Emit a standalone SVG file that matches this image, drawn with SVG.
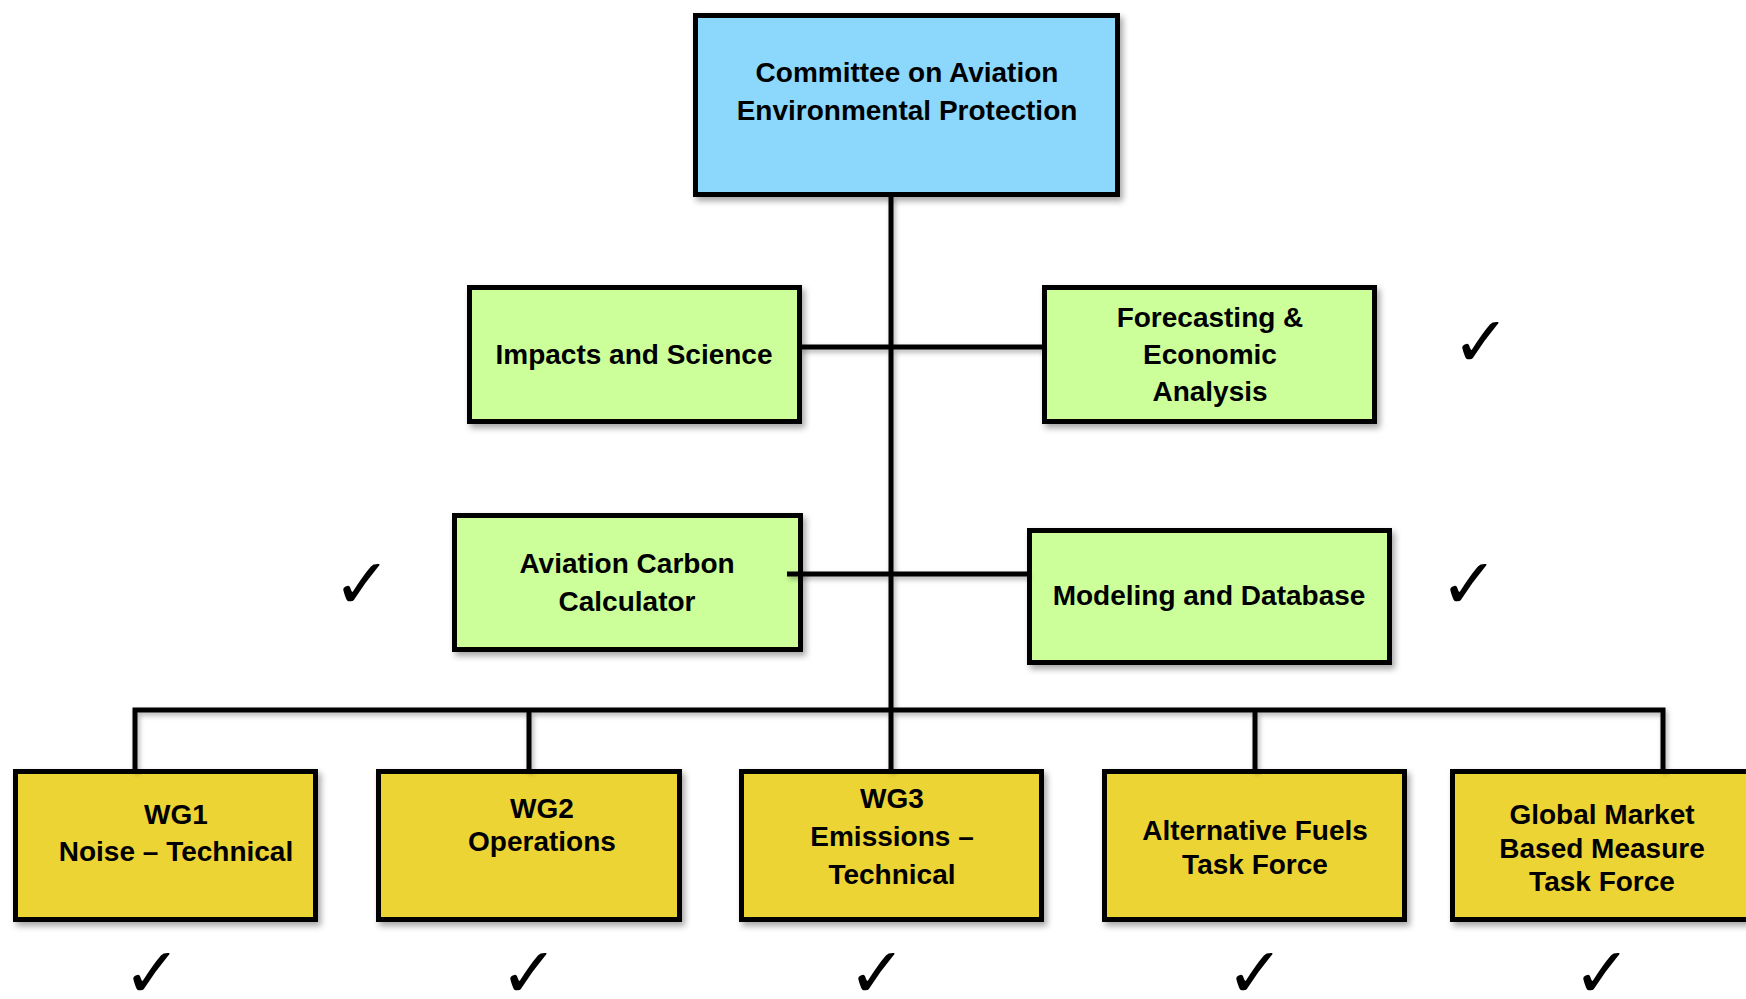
<svg xmlns="http://www.w3.org/2000/svg" width="1746" height="999" viewBox="0 0 1746 999">
<defs>
<filter id="sh" x="-10%" y="-10%" width="130%" height="140%">
<feDropShadow dx="3" dy="4" stdDeviation="3" flood-color="#000" flood-opacity="0.35"/>
</filter>
<filter id="shl" filterUnits="userSpaceOnUse" x="0" y="0" width="1746" height="999">
<feDropShadow dx="2" dy="3" stdDeviation="2.5" flood-color="#000" flood-opacity="0.3"/>
</filter>
<style>
.box{stroke:#000;stroke-width:5;filter:url(#sh)}
.blue{fill:#8CD8FC}
.green{fill:#CCFF99}
.yellow{fill:#EDD434}
.t{font-family:"Liberation Sans",Arial,sans-serif;font-weight:bold;font-size:28px;fill:#000;text-anchor:middle}
.ck{font-family:"DejaVu Sans",sans-serif;font-weight:bold;font-size:70px;fill:#000;text-anchor:middle}
.ln{stroke:#000;stroke-width:5;fill:none}
</style>
</defs>
<rect width="1746" height="999" fill="#fff"/>
<g id="caep">
<rect class="box blue" x="695.5" y="15.5" width="422" height="179"/>
<text class="t" x="907" y="82">Committee on Aviation</text>
<text class="t" x="907" y="120">Environmental Protection</text>
</g>
<g id="impacts">
<rect class="box green" x="469.5" y="287.5" width="330" height="134"/>
<text class="t" x="634" y="364">Impacts and Science</text>
</g>
<g id="forecasting">
<rect class="box green" x="1044.5" y="287.5" width="330" height="134"/>
<text class="t" x="1210" y="327">Forecasting &amp;</text>
<text class="t" x="1210" y="364">Economic</text>
<text class="t" x="1210" y="401">Analysis</text>
</g>
<g id="acc">
<rect class="box green" x="454.5" y="515.5" width="346" height="134"/>
<text class="t" x="627" y="573">Aviation Carbon</text>
<text class="t" x="627" y="611">Calculator</text>
</g>
<g id="modeling">
<rect class="box green" x="1029.5" y="530.5" width="360" height="132"/>
<text class="t" x="1209" y="605">Modeling and Database</text>
</g>
<g id="wg1">
<rect class="box yellow" x="15.5" y="771.5" width="300" height="148"/>
<text class="t" x="176" y="824">WG1</text>
<text class="t" x="176" y="861">Noise – Technical</text>
</g>
<g id="wg2">
<rect class="box yellow" x="378.5" y="771.5" width="301" height="148"/>
<text class="t" x="542" y="818">WG2</text>
<text class="t" x="542" y="851">Operations</text>
</g>
<g id="wg3">
<rect class="box yellow" x="741.5" y="771.5" width="300" height="148"/>
<text class="t" x="892" y="808">WG3</text>
<text class="t" x="892" y="846">Emissions –</text>
<text class="t" x="892" y="884">Technical</text>
</g>
<g id="altfuels">
<rect class="box yellow" x="1104.5" y="771.5" width="300" height="148"/>
<text class="t" x="1255" y="840">Alternative Fuels</text>
<text class="t" x="1255" y="874">Task Force</text>
</g>
<g id="gmbm">
<rect class="box yellow" x="1452.5" y="771.5" width="320" height="148"/>
<text class="t" x="1602" y="824">Global Market</text>
<text class="t" x="1602" y="858">Based Measure</text>
<text class="t" x="1602" y="891">Task Force</text>
</g>
<g id="connectors" filter="url(#shl)">
<path class="ln" d="M891 196 V771"/>
<path class="ln" d="M800 347 H1043"/>
<path class="ln" d="M787 574 H1028"/>
<path class="ln" d="M135 771 V710 H1663 V771"/>
<path class="ln" d="M529 710 V771"/>
<path class="ln" d="M1255 710 V771"/>
</g>
<g id="checks">
<text class="ck" x="1481" y="366">✓</text>
<text class="ck" x="362" y="608">✓</text>
<text class="ck" x="1469" y="608">✓</text>
<text class="ck" x="152" y="997">✓</text>
<text class="ck" x="529" y="997">✓</text>
<text class="ck" x="877" y="997">✓</text>
<text class="ck" x="1255" y="997">✓</text>
<text class="ck" x="1602" y="997">✓</text>
</g>
</svg>
